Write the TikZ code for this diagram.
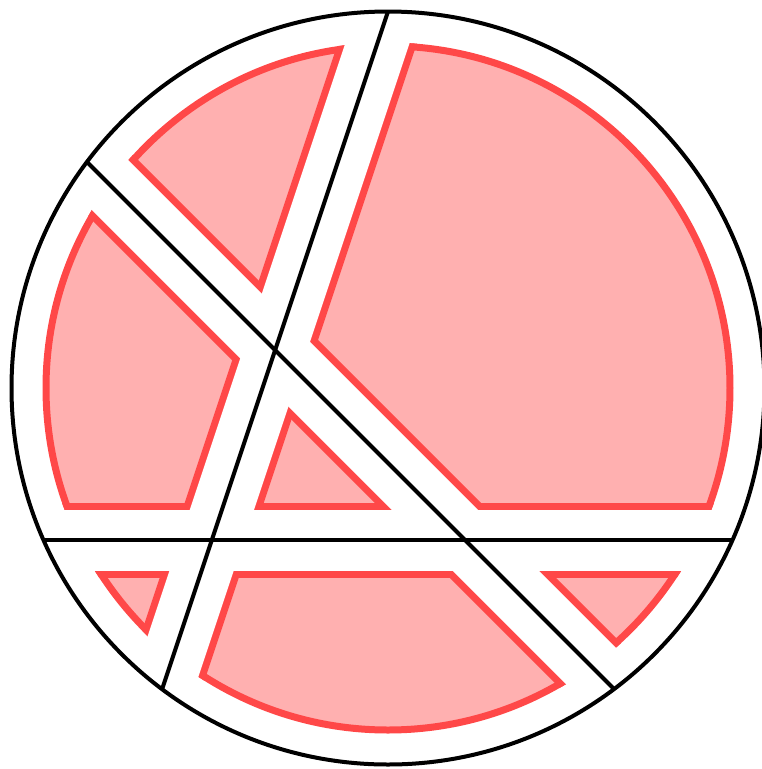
\documentclass[tikz,border=0pt]{standalone}
\usepackage{xcolor}
\definecolor{piecefill}{RGB}{255,176,176}
\definecolor{pieceline}{RGB}{255,72,72}
\usepackage{tikz}
\usetikzlibrary{calc}

\begin{document}
\begin{tikzpicture}[x=0.02cm, y=-0.02cm,
  chord/.style={draw=black, line width=0.08cm},
  redcut/.style={draw=pieceline, line width=1.5cm},
  gapcut/.style={draw=white, line width=1.22cm},
  piece/.style={fill=piecefill, draw=pieceline, line width=0.14cm}
]
  \useasboundingbox (0,0) rectangle (762,769);

  % ── Chord ends on the rim ──
  \coordinate (o)  at (388,388);
  \coordinate (a1) at (388,11.5);
  \coordinate (a2) at (162.1,689.2);
  \coordinate (b1) at (86.9,161.9);
  \coordinate (b2) at (614.1,689.1);
  \coordinate (c1) at (43.5,540);
  \coordinate (c2) at (732.5,540);

  % ── Pieces: inner disc, cut by the three strips ──
  \path[piece] (o) circle (342);
  \begin{scope}
    \clip (o) circle (345.5);
    \foreach \p/\q in {a1/a2,b1/b2,c1/c2}
      \draw[redcut] ($(\p)!-0.2!(\q)$) -- ($(\q)!-0.2!(\p)$);
  \end{scope}
  \begin{scope}
    \clip (o) circle (350);
    \foreach \p/\q in {a1/a2,b1/b2,c1/c2}
      \draw[gapcut] ($(\p)!-0.2!(\q)$) -- ($(\q)!-0.2!(\p)$);
  \end{scope}

  % ── Rim and chords ──
  \draw[chord] (o) circle (376.5);
  \foreach \p/\q in {a1/a2,b1/b2,c1/c2}
    \draw[chord] (\p) -- (\q);
\end{tikzpicture}
\end{document}
